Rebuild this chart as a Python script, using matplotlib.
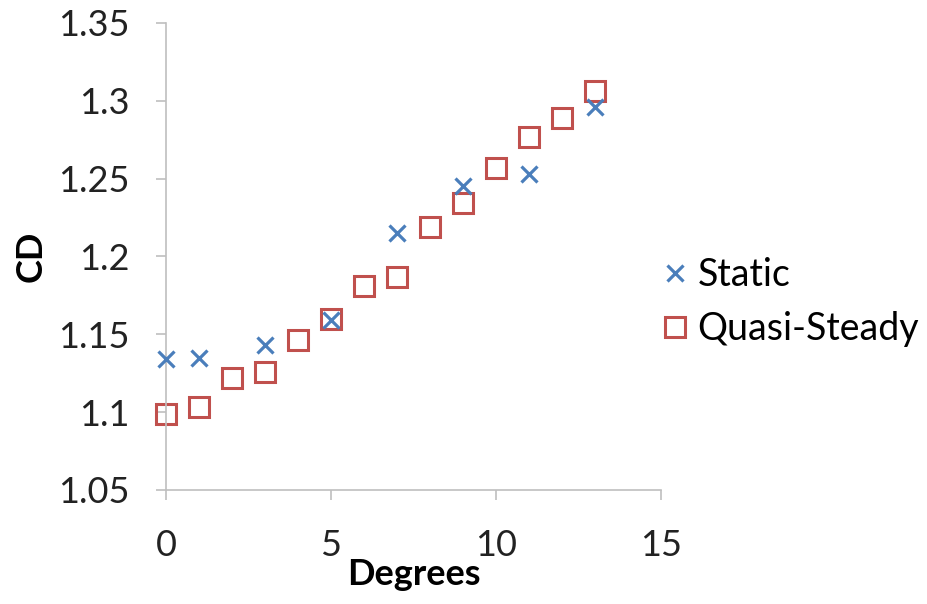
import numpy as np
import matplotlib
matplotlib.use('Agg')
import matplotlib.pyplot as plt

plt.rcParams['font.family'] = ['Lato', 'DejaVu Sans']

# static measurements
static_deg = [0, 1, 3, 5, 7, 9, 11, 13]
static_cd = [1.134, 1.135, 1.143, 1.159, 1.215, 1.245, 1.253, 1.296]

# quasi-steady values
qs_deg = [0, 1, 2, 3, 4, 5, 6, 7, 8, 9, 10, 11, 12, 13]
qs_cd = [1.099, 1.103, 1.122, 1.126, 1.146, 1.160, 1.181, 1.187,
         1.219, 1.234, 1.257, 1.277, 1.289, 1.306]

xticks = [0, 5, 10, 15]
yticks = [1.05, 1.1, 1.15, 1.2, 1.25, 1.3, 1.35]
ytick_labels = ['1.05', '1.1', '1.15', '1.2', '1.25', '1.3', '1.35']

blue = '#4a7ebb'
red = '#c0504d'
grey = '#bfbfbf'

fig = plt.figure(figsize=(9.27, 6.04), dpi=100)
ax = fig.add_axes([0.179, 0.189, 0.534, 0.773])

ax.plot(static_deg, static_cd, ls='none', marker='x', ms=11, mew=2.3,
        color=blue, label='Static', zorder=3, clip_on=False)
ax.plot(qs_deg, qs_cd, ls='none', marker='s', ms=15, mew=2.2,
        mfc='none', mec=red, label='Quasi-Steady', zorder=2, clip_on=False)

ax.set_xlim(0, 15)
ax.set_ylim(1.05, 1.35)
ax.set_xticks(xticks)
ax.set_yticks(yticks)
ax.set_yticklabels(ytick_labels)
ax.tick_params(axis='both', labelsize=26, color=grey, length=7, width=1.2,
               labelcolor='#222222')
ax.tick_params(axis='x', pad=21)
ax.tick_params(axis='y', pad=19)

for s in ['top', 'right']:
    ax.spines[s].set_visible(False)
for s in ['left', 'bottom']:
    ax.spines[s].set_color(grey)
    ax.spines[s].set_linewidth(1.2)

ax.set_xlabel('Degrees', fontsize=26, fontweight='bold', labelpad=-3)
ax.set_ylabel('CD', fontsize=26, fontweight='bold', labelpad=8)

fig.legend(loc='center left', bbox_to_anchor=(0.716, 0.5), frameon=False,
           fontsize=27, handlelength=0.6, handletextpad=0.3,
           borderpad=0, borderaxespad=0, labelspacing=0.5)

plt.savefig('out.png', dpi=100)
